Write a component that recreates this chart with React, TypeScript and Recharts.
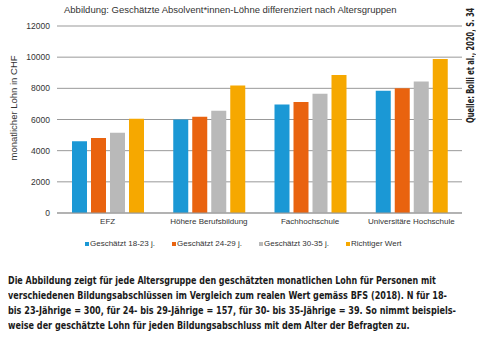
import React, { useLayoutEffect, useRef, useState } from 'react';
import { BarChart, Bar, XAxis, YAxis, CartesianGrid, Legend } from 'recharts';

const categories = ['EFZ', 'Höhere Berufsbildung', 'Fachhochschule', 'Universitäre Hochschule'];
const est18to23 = [4600, 6000, 6970, 7840];
const est24to29 = [4820, 6170, 7130, 8000];
const est30to35 = [5150, 6560, 7650, 8440];
const realValue = [6050, 8180, 8850, 9890];
const yTicks = [0, 2000, 4000, 6000, 8000, 10000, 12000];

const SERIES = [
  { key: 'a', name: 'Geschätzt 18-23 j.', color: '#1b98d5' },
  { key: 'b', name: 'Geschätzt 24-29 j.', color: '#e9630f' },
  { key: 'c', name: 'Geschätzt 30-35 j.', color: '#b9b9b9' },
  { key: 'd', name: 'Richtiger Wert', color: '#f6a800' },
];

const data = categories.map((name, i) => ({
  name,
  a: est18to23[i],
  b: est24to29[i],
  c: est30to35[i],
  d: realValue[i],
}));

const captionLines = [
  'Die Abbildung zeigt für jede Altersgruppe den geschätzten monatlichen Lohn für Personen mit',
  'verschiedenen Bildungsabschlüssen im Vergleich zum realen Wert gemäss BFS (2018). N für 18-',
  'bis 23-Jährige = 300, für 24- bis 29-Jährige = 157, für 30- bis 35-Jährige = 39. So nimmt beispiels-',
  'weise der geschätzte Lohn für jeden Bildungsabschluss mit dem Alter der Befragten zu.',
];
const captionWidths = [428, 439, 448, 402];

const FONT = '"Liberation Sans", Arial, sans-serif';
const CAPTION_FONT = '"DejaVu Sans Condensed", "DejaVu Sans", sans-serif';

// squeezes a line horizontally so it fills the given width
const FitText = ({ text, width, style }: { text: string; width: number; style?: React.CSSProperties }) => {
  const ref = useRef<HTMLSpanElement>(null);
  const [scale, setScale] = useState(1);
  useLayoutEffect(() => {
    if (ref.current && ref.current.offsetWidth > 0) setScale(width / ref.current.offsetWidth);
  }, [text, width]);
  return (
    <div style={{ width, height: style?.lineHeight, whiteSpace: 'nowrap', ...style }}>
      <span
        ref={ref}
        style={{ display: 'inline-block', transform: `scaleX(${scale})`, transformOrigin: '0 0' }}
      >
        {text}
      </span>
    </div>
  );
};

const LegendBox = () => (
  <div style={{ display: 'flex', paddingLeft: 85, paddingTop: 6, fontFamily: FONT, fontSize: 8, color: '#333' }}>
    {SERIES.map((s) => (
      <div key={s.key} style={{ display: 'flex', alignItems: 'center', width: 87 }}>
        <span style={{ width: 4, height: 4, background: s.color, marginRight: 1, display: 'inline-block' }} />
        <span>{s.name}</span>
      </div>
    ))}
  </div>
);

export default function App() {
  return (
    <div style={{ position: 'absolute', left: 0, top: 0, width: 480, height: 343, background: '#fff', overflow: 'hidden' }}>
      <BarChart
        width={480}
        height={262}
        data={data}
        margin={{ top: 26, right: 18, left: 0, bottom: 0 }}
        barCategoryGap={15}
        barGap={4}
      >
        <CartesianGrid vertical={false} stroke="#999" />
        <XAxis
          dataKey="name"
          axisLine={{ stroke: '#999' }}
          tickLine={false}
          tickSize={0}
          tick={{ fontSize: 8, fill: '#333', fontFamily: FONT }}
          tickMargin={5}
          height={20}
          interval={0}
        />
        <YAxis
          width={57}
          domain={[0, 12000]}
          ticks={yTicks}
          axisLine={false}
          tickLine={false}
          tickSize={0}
          tickMargin={7}
          tick={{ fontSize: 8.5, fill: '#333', fontFamily: FONT }}
        />
        <Legend verticalAlign="bottom" height={29} content={<LegendBox />} />
        {SERIES.map((s) => (
          <Bar key={s.key} dataKey={s.key} name={s.name} fill={s.color} isAnimationActive={false} />
        ))}
      </BarChart>
      <svg width={480} height={262} style={{ position: 'absolute', left: 0, top: 0, pointerEvents: 'none' }}>
        <text x={64} y={13} fontFamily={FONT} fontSize={9.5} fill="#333">
          Abbildung: Geschätzte Absolvent*innen-Löhne differenziert nach Altersgruppen
        </text>
        <text
          transform="translate(17,108) rotate(-90)"
          textAnchor="middle"
          fontFamily={FONT}
          fontSize={9.5}
          fill="#333"
        >
          monatlicher Lohn in CHF
        </text>
      </svg>
      <div
        style={{
          position: 'absolute',
          left: 0,
          top: 0,
          transform: 'translate(465px, 123px) rotate(-90deg)',
          transformOrigin: '0 0',
        }}
      >
        <FitText
          text="Quelle: Bolli et al., 2020, S. 34"
          width={115}
          style={{ fontFamily: CAPTION_FONT, fontSize: 10, fontWeight: 700, lineHeight: '12px', color: '#222' }}
        />
      </div>
      <div style={{ position: 'absolute', left: 8, top: 273 }}>
        {captionLines.map((l, i) => (
          <FitText
            key={i}
            text={l}
            width={captionWidths[i]}
            style={{ fontFamily: CAPTION_FONT, fontSize: 11, fontWeight: 700, lineHeight: '15px', color: '#1a1a1a' }}
          />
        ))}
      </div>
    </div>
  );
}
